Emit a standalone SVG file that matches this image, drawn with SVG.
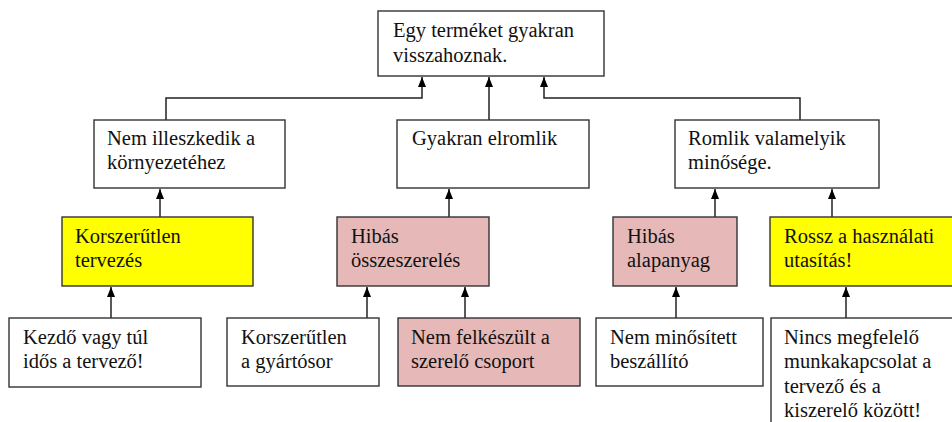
<svg xmlns="http://www.w3.org/2000/svg" width="952" height="422" viewBox="0 0 952 422">
<defs>
<style>
.box{stroke:#333;stroke-width:1.4}
.w{fill:#fff}
.y{fill:#ffff00}
.p{fill:#e6b9b8}
.c{fill:none;stroke:#222;stroke-width:1.5}
</style>
<marker id="ah" viewBox="0 0 10 8" refX="10" refY="4" markerWidth="10" markerHeight="8" markerUnits="userSpaceOnUse" orient="auto">
<path d="M0,0 L10,4 L0,8 z" fill="#000"/>
</marker>
</defs>
<rect width="952" height="422" fill="#fff"/>
<g id="connectors">
<path class="c" d="M166,120 V98 H422 V77" marker-end="url(#ah)"/>
<path class="c" d="M489,120 V77" marker-end="url(#ah)"/>
<path class="c" d="M800,120 V98 H544 V77" marker-end="url(#ah)"/>
<path class="c" d="M160,217 V189" marker-end="url(#ah)"/>
<path class="c" d="M449,217 V189" marker-end="url(#ah)"/>
<path class="c" d="M715,217 V189" marker-end="url(#ah)"/>
<path class="c" d="M832,217 V189" marker-end="url(#ah)"/>
<path class="c" d="M111,318 V287" marker-end="url(#ah)"/>
<path class="c" d="M367,318 V287" marker-end="url(#ah)"/>
<path class="c" d="M465,318 V287" marker-end="url(#ah)"/>
<path class="c" d="M676,318 V287" marker-end="url(#ah)"/>
<path class="c" d="M846,318 V287" marker-end="url(#ah)"/>
</g>
<g font-family="'Liberation Serif', 'DejaVu Serif', serif" font-size="20.5" fill="#111">
<g id="top">
<rect class="box w" x="378" y="11" width="226" height="65"/>
<text x="393" y="37">Egy terméket gyakran</text>
<text x="393" y="62">visszahoznak.</text>
</g>
<g id="n-illeszkedik">
<rect class="box w" x="94" y="120" width="191" height="68"/>
<text x="107" y="145">Nem illeszkedik a</text>
<text x="107" y="169">környezetéhez</text>
</g>
<g id="n-elromlik">
<rect class="box w" x="397" y="120" width="192" height="68"/>
<text x="412" y="145">Gyakran elromlik</text>
</g>
<g id="n-romlik">
<rect class="box w" x="675" y="120" width="204" height="68"/>
<text x="688" y="145">Romlik valamelyik</text>
<text x="688" y="169">minősége.</text>
</g>
<g id="n-tervezes">
<rect class="box y" x="62" y="217" width="191" height="69"/>
<text x="75" y="243">Korszerűtlen</text>
<text x="75" y="267">tervezés</text>
</g>
<g id="n-osszeszereles">
<rect class="box p" x="337" y="217" width="152" height="69"/>
<text x="351" y="243">Hibás</text>
<text x="351" y="267">összeszerelés</text>
</g>
<g id="n-alapanyag">
<rect class="box p" x="613" y="217" width="124" height="69"/>
<text x="627" y="243">Hibás</text>
<text x="627" y="267">alapanyag</text>
</g>
<g id="n-utasitas">
<rect class="box y" x="770" y="217" width="200" height="69"/>
<text x="784" y="243">Rossz a használati</text>
<text x="784" y="267">utasítás!</text>
</g>
<g id="n-kezdo">
<rect class="box w" x="9" y="318" width="192" height="69"/>
<text x="23" y="344">Kezdő vagy túl</text>
<text x="23" y="368">idős a tervező!</text>
</g>
<g id="n-gyartosor">
<rect class="box w" x="227" y="318" width="152" height="68"/>
<text x="241" y="344">Korszerűtlen</text>
<text x="241" y="368">a gyártósor</text>
</g>
<g id="n-felkeszult">
<rect class="box p" x="398" y="318" width="182" height="68"/>
<text x="411" y="344">Nem felkészült a</text>
<text x="411" y="368">szerelő csoport</text>
</g>
<g id="n-minositett">
<rect class="box w" x="596" y="318" width="167" height="68"/>
<text x="610" y="344">Nem minősített</text>
<text x="610" y="368">beszállító</text>
</g>
<g id="n-munkakapcsolat">
<rect class="box w" x="771" y="318" width="200" height="120"/>
<text x="784" y="344">Nincs megfelelő</text>
<text x="784" y="368">munkakapcsolat a</text>
<text x="784" y="393">tervező és a</text>
<text x="784" y="417">kiszerelő között!</text>
</g>
</g>
</svg>
